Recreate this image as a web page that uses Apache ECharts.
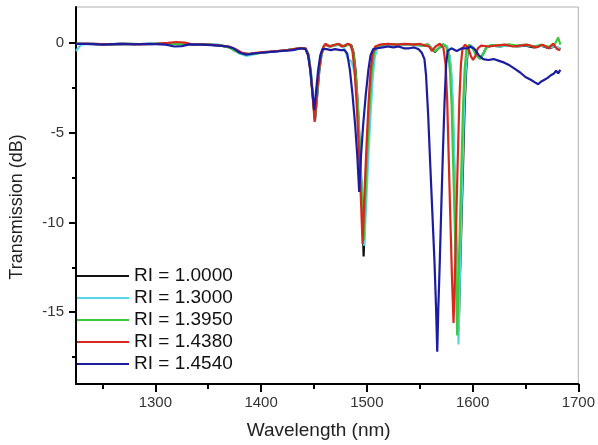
<!DOCTYPE html>
<html><head><meta charset="utf-8">
<script src="https://cdn.jsdelivr.net/npm/echarts@6/dist/echarts.min.js"></script>
<style>html,body{margin:0;padding:0;background:#fff}#c{width:598px;height:445px}</style>
</head><body><div id="c"></div>
<script>
const seriesNames = ['RI = 1.0000','RI = 1.3000','RI = 1.3950','RI = 1.4380','RI = 1.4540'];
const seriesColors = ['#111111','#55d6e6','#3ec83e','#d8281e','#1c1ca0'];

const ri1000 = [[1225,-0.05],[1240,-0.05],[1255,-0.08],[1270,-0.05],[1285,-0.06],[1300,-0.05],[1315,-0.05],[1330,-0.06],[1345,-0.08],[1360,-0.12],[1370,-0.25],[1376,-0.45],[1382,-0.6],[1390,-0.62],[1400,-0.55],[1412,-0.48],[1425,-0.4],[1436,-0.32],[1442,-0.32],
[1444.8,-0.65],[1447,-1.6],[1449,-3.0],[1451,-4.3],[1453,-3.0],[1455,-1.6],[1457.2,-0.65],[1459.5,-0.2],[1462,-0.1],[1466,-0.2],[1470,-0.12],[1474,-0.08],[1478,-0.2],[1482,-0.1],[1485.5,-0.15],
[1487.5,-0.55],[1489.5,-1.6],[1491.5,-3.5],[1493.5,-6],[1495.5,-9],[1497,-11.9],[1498.5,-9],[1500.5,-6],[1502.5,-3.5],[1504.5,-1.6],[1506.5,-0.6],[1509,-0.2],[1515,-0.1],[1522,-0.08],[1530,-0.12],[1538,-0.08],[1546,-0.1],[1552,-0.15],[1558,-0.1],[1561,-0.3],[1564.5,-0.5],[1568,-0.3],[1572,-0.1],[1575.5,-0.2],
[1578,-0.7],[1579.5,-1.6],[1581,-3.5],[1582.5,-6.8],[1584,-10],[1585.5,-13.2],[1586.8,-16.0],[1588,-13.2],[1589.5,-10],[1591,-6.8],[1592.5,-3.5],[1594,-1.5],[1595.5,-0.4],[1598,-0.15],[1601,-0.3],[1604,-0.7],[1607,-0.85],[1610,-0.6],[1613,-0.25],[1618,-0.15],[1626,-0.2],[1634,-0.12],[1642,-0.2],[1650,-0.15],[1658,-0.25],[1665,-0.15],[1672,-0.3],[1678,-0.2],[1683,-0.35]];

const ri1300 = [[1225,-0.45],[1227,-0.3],[1230,-0.08],[1240,-0.05],[1255,-0.08],[1270,-0.05],[1285,-0.06],[1300,-0.05],[1315,-0.06],[1330,-0.08],[1345,-0.1],[1360,-0.1],[1368,-0.2],[1374,-0.4],[1380,-0.6],[1386,-0.72],[1392,-0.65],[1400,-0.55],[1412,-0.48],[1425,-0.4],[1436,-0.32],[1442,-0.32],
[1444.8,-0.6],[1447,-1.5],[1449,-2.9],[1451,-4.1],[1453,-2.9],[1455,-1.5],[1457.2,-0.6],[1459.5,-0.2],[1462,-0.12],[1466,-0.2],[1470,-0.15],[1474,-0.1],[1478,-0.25],[1480.5,-0.6],[1482.5,-0.95],[1485,-1.0],[1487,-1.3],
[1489.5,-2.0],[1491.5,-3.5],[1493.5,-5.8],[1495.5,-8.5],[1497.5,-11.3],[1499.5,-8.8],[1501.5,-6.2],[1503.5,-4.0],[1505.5,-2.0],[1507.5,-0.8],[1510,-0.25],[1515,-0.12],[1522,-0.1],[1530,-0.12],[1538,-0.1],[1546,-0.12],[1552,-0.15],[1558,-0.12],[1561,-0.3],[1564.5,-0.45],[1568,-0.3],[1572,-0.08],[1576,-0.2],
[1578.5,-0.8],[1580,-1.7],[1581.5,-3.5],[1583,-6.9],[1584.5,-10.4],[1585.7,-13.8],[1586.7,-16.8],[1587.7,-13.8],[1589,-10.4],[1590.5,-6.9],[1592,-3.5],[1593.5,-1.6],[1595,-0.5],[1597.5,-0.12],[1601,-0.3],[1604,-0.65],[1607,-0.85],[1610,-0.6],[1613,-0.25],[1618,-0.15],[1626,-0.2],[1634,-0.15],[1642,-0.2],[1650,-0.12],[1658,-0.2],[1665,-0.15],[1672,-0.25],[1678,-0.2],[1683,-0.3]];

const ri1395 = [[1225,-0.05],[1240,-0.06],[1255,-0.08],[1270,-0.05],[1285,-0.07],[1300,-0.05],[1315,-0.04],[1330,-0.07],[1345,-0.08],[1360,-0.12],[1370,-0.25],[1376,-0.45],[1382,-0.6],[1390,-0.62],[1400,-0.55],[1412,-0.48],[1425,-0.4],[1436,-0.3],[1442,-0.3],
[1444.6,-0.62],[1446.8,-1.55],[1448.8,-2.9],[1450.8,-4.2],[1452.8,-2.9],[1454.8,-1.55],[1457,-0.62],[1459.3,-0.2],[1461.5,-0.08],[1465,-0.2],[1469,-0.12],[1473,-0.06],[1477,-0.2],[1481,-0.1],[1485,-0.12],
[1487.3,-0.55],[1489.3,-1.6],[1491.3,-3.4],[1493.3,-5.8],[1495.3,-8.5],[1497,-11.0],[1498.7,-8.5],[1500.7,-5.8],[1502.7,-3.4],[1504.7,-1.6],[1506.7,-0.6],[1509,-0.2],[1515,-0.1],[1522,-0.06],[1530,-0.1],[1538,-0.06],[1546,-0.1],[1552,-0.12],[1558,-0.1],[1561,-0.28],[1564.5,-0.48],[1568,-0.28],[1572,-0.06],[1575,-0.2],
[1577.2,-0.7],[1578.7,-1.6],[1580.2,-3.5],[1581.7,-6.8],[1583.2,-10.2],[1584.4,-13.4],[1585.5,-16.3],[1586.6,-13.4],[1588,-10.2],[1589.5,-6.8],[1591,-3.5],[1592.5,-1.5],[1594,-0.45],[1596.5,-0.1],[1600,-0.3],[1603.5,-0.7],[1607,-0.9],[1610.5,-0.6],[1613.5,-0.2],[1618,-0.12],[1626,-0.15],[1634,-0.08],[1642,-0.15],[1650,-0.1],[1658,-0.2],[1665,-0.1],[1672,-0.22],[1678,-0.05],[1681,0.3],[1683,-0.1]];

const ri1438 = [[1225,-0.05],[1240,-0.05],[1255,-0.08],[1270,-0.05],[1285,-0.08],[1300,-0.05],[1312,0.0],[1320,0.05],[1328,0.02],[1335,-0.08],[1350,-0.1],[1362,-0.15],[1370,-0.2],[1376,-0.35],[1382,-0.55],[1388,-0.62],[1395,-0.55],[1405,-0.5],[1415,-0.45],[1425,-0.4],[1435,-0.3],[1442,-0.3],
[1444.5,-0.65],[1446.8,-1.6],[1448.8,-3.0],[1450.7,-4.4],[1452.6,-3.0],[1454.6,-1.6],[1456.8,-0.65],[1459,-0.2],[1461,-0.05],[1464,-0.2],[1467,-0.15],[1470,-0.1],[1473,-0.05],[1476,-0.2],[1479,-0.15],[1482,-0.05],[1484.5,-0.1],
[1486.5,-0.5],[1488.5,-1.6],[1490.5,-3.5],[1492.5,-6],[1494.5,-8.8],[1496,-11.2],[1497.5,-8.8],[1499.5,-6],[1501.5,-3.5],[1503.5,-1.6],[1505.5,-0.6],[1508,-0.2],[1512,-0.1],[1520,-0.05],[1528,-0.1],[1536,-0.05],[1544,-0.1],[1550,-0.05],[1555,-0.15],[1559,-0.2],[1561.5,-0.45],[1565,-0.2],[1569,-0.05],[1572.5,-0.3],
[1574.5,-1.2],[1576,-3.2],[1577.5,-6.5],[1579,-9.8],[1580.5,-13],[1582,-15.6],[1583.3,-13],[1584.6,-9.8],[1586,-6.5],[1587.5,-3.2],[1589,-1.2],[1590.5,-0.3],[1593,-0.1],[1596,-0.3],[1598.5,-0.75],[1600.5,-0.95],[1602.5,-0.75],[1605,-0.3],[1608,-0.15],[1615,-0.2],[1622,-0.15],[1630,-0.1],[1638,-0.2],[1645,-0.15],[1652,-0.1],[1660,-0.25],[1666,-0.1],[1672,-0.3],[1676,-0.05],[1680,-0.35],[1683,-0.4]];

const ri1454 = [[1225,-0.05],[1235,-0.05],[1250,-0.1],[1265,-0.05],[1280,-0.08],[1295,-0.05],[1310,-0.1],[1318,-0.2],[1325,-0.18],[1332,-0.08],[1345,-0.1],[1360,-0.15],[1368,-0.2],[1374,-0.3],[1380,-0.55],[1386,-0.65],[1392,-0.6],[1400,-0.55],[1410,-0.5],[1420,-0.45],[1430,-0.4],[1438,-0.3],[1442,-0.35],
[1444.5,-0.7],[1446.5,-1.5],[1448.5,-2.7],[1450.3,-3.75],[1452,-2.7],[1454,-1.5],[1456,-0.7],[1458,-0.35],[1462,-0.35],[1466,-0.4],[1470,-0.35],[1475,-0.4],[1479,-0.4],
[1481.5,-0.6],[1484,-1.5],[1486.5,-2.9],[1489,-4.6],[1491,-6.3],[1492.8,-8.3],[1494.5,-6.3],[1496.5,-4.6],[1499,-2.9],[1501.5,-1.5],[1503.5,-0.7],[1506,-0.35],[1510,-0.3],[1515,-0.25],[1520,-0.2],[1525,-0.25],[1530,-0.2],[1535,-0.3],[1540,-0.3],[1545,-0.25],[1549,-0.35],[1552,-0.55],
[1554.5,-0.9],[1556,-1.8],[1558,-4],[1560,-6.8],[1562,-9.5],[1564,-12.2],[1565.5,-14.8],[1566.6,-17.2],[1567.6,-14.8],[1569,-12.2],[1570.5,-9],[1572,-6],[1573.5,-3.3],[1575,-1.2],[1576.5,-0.45],[1580,-0.3],[1585,-0.45],[1590,-0.3],[1595,-0.3],[1598,-0.2],[1602,-0.35],[1606,-0.7],[1610,-0.9],[1615,-0.95],[1620,-0.9],[1625,-1.0],[1630,-1.1],[1635,-1.25],[1640,-1.45],[1645,-1.65],[1650,-1.9],[1655,-2.05],[1659,-2.2],[1662,-2.3],[1665,-2.15],[1668,-2.05],[1671,-1.95],[1674,-1.8],[1677,-1.7],[1679,-1.55],[1681,-1.7],[1683,-1.5]];

const seriesData = [ri1000, ri1300, ri1395, ri1438, ri1454];

const xLabelValues = [1300,1400,1500,1600,1700];
const xMinorTickValues = [1250,1350,1450,1550,1650];
const yLabelValues = [0,-5,-10,-15];
const yMinorTickValues = [-2.5,-7.5,-12.5,-17.5];

const FONT = 'Liberation Sans, Arial, sans-serif';
const plain = v => String(v);
const chart = echarts.init(document.getElementById('c'), null, {renderer:'canvas'});
chart.setOption({
  animation:false,
  backgroundColor:'#fff',
  grid:{left:76,right:17,top:7,bottom:61,show:true,borderColor:'#b0b0b0',borderWidth:1,backgroundColor:'transparent'},
  legend:{
    orient:'vertical', left:77, top:266, padding:0, itemWidth:52, itemHeight:2, itemGap:2, icon:'rect',
    textStyle:{fontSize:19,color:'#111',fontFamily:FONT,lineHeight:20},
    data:seriesNames
  },
  xAxis:[{
    type:'value', min:1225, max:1700, position:'bottom',
    axisLine:{onZero:false,lineStyle:{color:'#000',width:2}},
    axisTick:{customValues:xLabelValues,length:8,lineStyle:{color:'#000',width:2}},
    axisLabel:{customValues:xLabelValues,formatter:plain,color:'#333',fontSize:15,margin:11,fontFamily:FONT},
    splitLine:{show:false},
    name:'Wavelength (nm)', nameLocation:'middle', nameGap:37,
    nameTextStyle:{fontSize:19,color:'#222',fontFamily:FONT,padding:[0,17,0,0]}
  },{
    type:'value', min:1225, max:1700, position:'bottom',
    axisLine:{show:false,onZero:false},
    axisTick:{customValues:xMinorTickValues,length:5,lineStyle:{color:'#000',width:2}},
    axisLabel:{show:false}, splitLine:{show:false}
  }],
  yAxis:[{
    type:'value', min:-19, max:2, position:'left',
    axisLine:{show:true,onZero:false,lineStyle:{color:'#000',width:2}},
    axisTick:{show:true,customValues:yLabelValues,length:7,lineStyle:{color:'#000',width:2}},
    axisLabel:{customValues:yLabelValues,formatter:plain,color:'#333',fontSize:15,margin:12,fontFamily:FONT},
    splitLine:{show:false},
    name:'Transmission (dB)', nameLocation:'middle', nameGap:50,
    nameTextStyle:{fontSize:18,color:'#222',fontFamily:FONT,padding:[0,23,0,0]}
  },{
    type:'value', min:-19, max:2, position:'left',
    axisLine:{show:false,onZero:false},
    axisTick:{show:true,customValues:yMinorTickValues,length:4,lineStyle:{color:'#000',width:2}},
    axisLabel:{show:false}, splitLine:{show:false}
  }],
  series: seriesNames.map((n,i)=>({
    name:n, type:'line', xAxisIndex:0, yAxisIndex:0, data:seriesData[i],
    showSymbol:false, symbol:'none', color:seriesColors[i],
    lineStyle:{width:2.2,color:seriesColors[i]}
  }))
});
</script></body></html>
